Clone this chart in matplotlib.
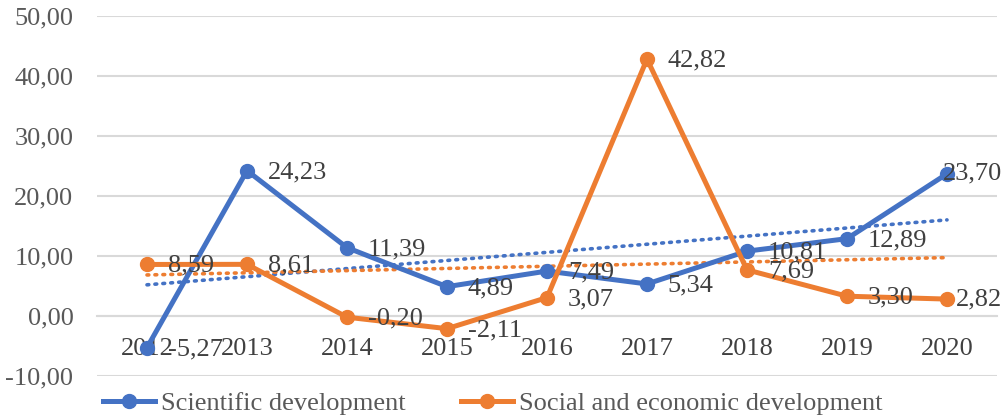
import numpy as np
import matplotlib
matplotlib.use('Agg')
import matplotlib.pyplot as plt
from matplotlib.ticker import FuncFormatter

# dados
anos = ['2012', '2013', '2014', '2015', '2016', '2017', '2018', '2019', '2020']
cientifico = [-5.27, 24.23, 11.39, 4.89, 7.49, 5.34, 10.81, 12.89, 23.70]
social = [8.59, 8.61, -0.20, -2.11, 3.07, 42.82, 7.69, 3.30, 2.82]
nomes = ['Scientific development', 'Social and economic development']

AZUL = '#4472C4'
LARANJA = '#ED7D31'
CINZA_TXT = '#595959'
ROTULO = '#404040'

plt.rcParams['font.family'] = ['Liberation Serif', 'DejaVu Serif']
plt.rcParams['font.size'] = 19


def virgula(v, pos=None):
    return f'{v:.2f}'.replace('.', ',')


fig = plt.figure(figsize=(10.05, 4.2), dpi=100)
ax = fig.add_axes([97 / 1005, 44 / 420, 900 / 1005, 360 / 420])

x = np.arange(len(anos))
linhas = []
for serie, cor, nome in [(cientifico, AZUL, nomes[0]), (social, LARANJA, nomes[1])]:
    l, = ax.plot(x, serie, color=cor, lw=3.6, marker='o', ms=10,
                 solid_joinstyle='round', label=nome, zorder=4)
    linhas.append(l)
    # linha de tendência linear
    a, b = np.polyfit(x, serie, 1)
    ax.plot(x, a * x + b, color=cor, lw=2.6, linestyle=(0, (0.5, 1.7)),
            dash_capstyle='round', zorder=3)

# rótulos de dados
for serie in [cientifico, social]:
    for i, v in enumerate(serie):
        if i == len(serie) - 1:
            ax.annotate(virgula(v), xy=(1002 / 1005, v),
                        xycoords=('figure fraction', 'data'),
                        ha='right', va='center', color=ROTULO, zorder=5,
                        annotation_clip=False)
        else:
            ax.annotate(virgula(v), xy=(i, v), xytext=(15, -1),
                        textcoords='offset points', ha='left', va='center',
                        color=ROTULO, zorder=5, annotation_clip=False)

ax.set_xlim(-0.5, len(anos) - 0.5)
ax.set_ylim(-10, 50)
ax.set_yticks(np.arange(-10, 51, 10))
ax.yaxis.set_major_formatter(FuncFormatter(virgula))
ax.set_xticks(x)
ax.set_xticklabels(anos)

for s in ['top', 'right', 'left']:
    ax.spines[s].set_visible(False)
ax.spines['bottom'].set_position(('data', 0))
ax.spines['bottom'].set_color('#D9D9D9')
ax.spines['bottom'].set_linewidth(1.5)
ax.grid(axis='y', color='#D9D9D9', lw=1.5, zorder=0)
ax.set_axisbelow(True)
ax.tick_params(axis='both', length=0, colors=CINZA_TXT, labelsize=19)
ax.tick_params(axis='y', pad=17)
ax.tick_params(axis='x', pad=15.5, labelcolor=ROTULO)

fig.legend(handles=linhas, loc='center', bbox_to_anchor=(0.49, 0.04), ncol=2,
           frameon=False, handlelength=2.0, handletextpad=0.2,
           columnspacing=2.1, labelcolor=CINZA_TXT, fontsize=19)

fig.savefig('out.png', dpi=100)
